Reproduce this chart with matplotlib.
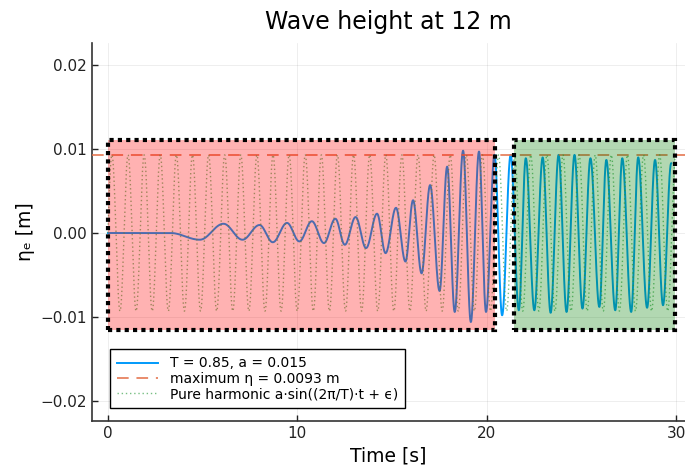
import numpy as np
import matplotlib
matplotlib.use("Agg")
import matplotlib.pyplot as plt
from matplotlib.patches import Rectangle

# wave gauge record: turning points (time [s], elevation [m])
ext_t = [0.0, 3.3, 4.85, 6.1, 7.1, 8.0, 8.7, 9.45, 10.1, 10.76, 11.4, 12.0,
         12.5, 13.07, 13.62, 14.2, 14.65, 15.2, 15.7, 16.1, 16.55, 17.0,
         17.5, 17.9, 18.3, 18.74, 19.15, 19.58, 19.95, 20.4, 20.8, 21.25,
         21.68, 22.05, 22.5, 22.94, 23.36, 23.78, 24.2, 24.62, 25.04, 25.46,
         25.93, 26.3, 26.77, 27.14, 27.61, 27.98, 28.45, 28.87, 29.29, 29.72]
ext_eta = [0.0, 0.0, -0.0008, 0.0011, -0.0008, 0.00095, -0.0011, 0.0012,
           -0.0010, 0.0014, -0.0012, 0.0017, -0.0014, 0.0019, -0.0018,
           0.0023, -0.0024, 0.0030, -0.0034, 0.0039, -0.0048, 0.0057,
           -0.0069, 0.0079, -0.0094, 0.0098, -0.0106, 0.0097, -0.0094,
           0.0093, -0.0098, 0.0093, -0.0092, 0.0089, -0.0092, 0.0090,
           -0.0095, 0.0093, -0.0094, 0.0093, -0.0090, 0.0089, -0.0088,
           0.0087, -0.0092, 0.0089, -0.0094, 0.0090, -0.0089, 0.0087,
           -0.0086, 0.0083]

T = 0.85
a = 0.015
eta_max = 0.0093
eps = 0.0
t_end = 30.0

# windows: ramp-up (red) and steady state (green)
win_red = (0.0, 20.45)
win_green = (21.45, 29.9)
win_y = (-0.0115, 0.0111)


def smooth_through(tp, yp, n=40):
    """half-cosine segments between successive turning points"""
    ts, ys = [], []
    for i in range(len(tp) - 1):
        s = np.linspace(0, 1, n, endpoint=False)
        ts.append(tp[i] + (tp[i + 1] - tp[i]) * s)
        ys.append(yp[i] + (yp[i + 1] - yp[i]) * (1 - np.cos(np.pi * s)) / 2)
    ts.append([tp[-1]])
    ys.append([yp[-1]])
    return np.concatenate(ts), np.concatenate(ys)


t_sig, eta_sig = smooth_through(ext_t, ext_eta)
t_h = np.linspace(0, t_end, 6000)
eta_h = eta_max * np.sin(2 * np.pi / T * t_h + eps)

c1 = (0 / 255, 154 / 255, 250 / 255)
c2 = (227 / 255, 111 / 255, 71 / 255)
c3 = (62 / 255, 164 / 255, 78 / 255)

fig = plt.figure(figsize=(6.85, 4.70), dpi=100)
ax = fig.add_axes([0.1343, 0.1043, 0.8657, 0.8042])

ax.plot(t_sig, eta_sig, color=c1, lw=1.4, label="T = 0.85, a = 0.015", zorder=3)
ax.axhline(eta_max, color=c2, lw=1.4, ls=(0, (6, 4)), alpha=0.8,
           label="maximum η = 0.0093 m", zorder=3)
ax.plot(t_h, eta_h, color=c3, lw=1.0, ls=(0, (1, 2)), alpha=0.7,
        label="Pure harmonic a·sin((2π/T)·t + ϵ)", zorder=3)

for (x0, x1), fc in [(win_red, "red"), (win_green, "green")]:
    ax.add_patch(Rectangle((x0, win_y[0]), x1 - x0, win_y[1] - win_y[0],
                           facecolor=fc, alpha=0.3, edgecolor="none", zorder=4))
    ax.add_patch(Rectangle((x0, win_y[0]), x1 - x0, win_y[1] - win_y[0],
                           facecolor="none", edgecolor="black", lw=3,
                           ls=(0, (1, 1)), zorder=5))

ax.set_xlim(-0.84, 30.45)
ax.set_ylim(-0.02238, 0.02262)
ax.set_xticks([0, 10, 20, 30])
ax.set_yticks([-0.02, -0.01, 0.0, 0.01, 0.02])
ax.set_yticklabels(["−0.02", "−0.01", "0.00", "0.01", "0.02"])
ax.grid(True, color="black", alpha=0.08, lw=0.6)
ax.tick_params(direction="in", length=4, width=1, labelsize=11, colors="#222222")
for side in ["top", "right"]:
    ax.spines[side].set_visible(False)
for side in ["left", "bottom"]:
    ax.spines[side].set_linewidth(1.2)
    ax.spines[side].set_color("#333333")

ax.set_title("Wave height at 12 m", fontsize=17, pad=10)
ax.set_xlabel("Time [s]", fontsize=13.5, labelpad=4)
ax.set_ylabel("ηₑ [m]", fontsize=13.5, labelpad=4)

leg = ax.legend(loc="lower left", bbox_to_anchor=(0.03, 0.034), borderaxespad=0,
                fontsize=10, fancybox=False, framealpha=1, edgecolor="black",
                handlelength=3.0, labelspacing=0.1, borderpad=0.5)
leg.get_frame().set_linewidth(1.0)

fig.savefig("out.png", dpi=100)
